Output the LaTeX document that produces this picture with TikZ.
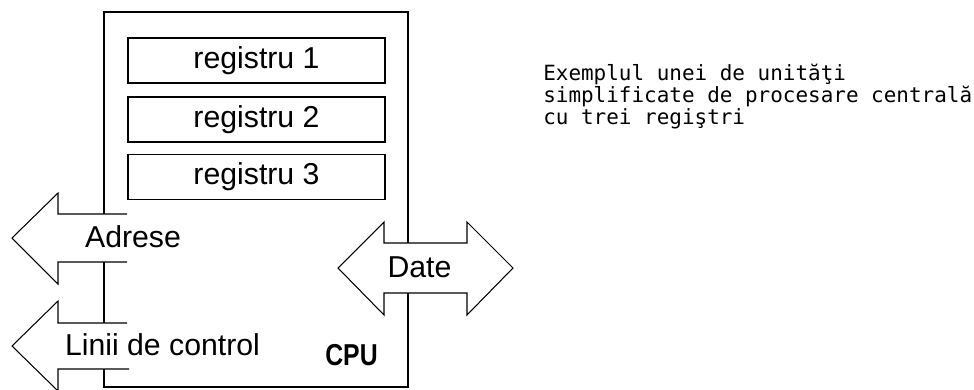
\documentclass[tikz,border=0pt]{standalone}
\usepackage{fontspec}
\usepackage{graphicx}
\setmainfont{Liberation Sans}
\newfontfamily\notefont{DejaVu Sans Mono}
\tikzset{
  cpuline/.style={line width=2.1pt},
  regbox/.style={draw,line width=1.1pt,inner sep=0pt,minimum width=6.425cm,minimum height=1.125cm,font=\fontsize{21.5}{26}\selectfont},
  busarrow/.style={line width=0.75pt,line join=miter},
  buslabel/.style={anchor=base,inner sep=0pt,font=\fontsize{21.5}{26}\selectfont}
}
\begin{document}
\begin{tikzpicture}[x=0.025cm,y=-0.025cm]
\useasboundingbox (0,0) rectangle (974,389);
% unitatea centrala
\draw[cpuline] (104,214)--(104,12)--(408,12)--(408,243);
\draw[cpuline] (408,293)--(408,387)--(104,387)--(104,369);
\draw[cpuline] (104,262)--(104,323);
\node[regbox] (reg1) at (256.5,60.5) {registru 1};
\node[regbox] (reg2) at (256.5,119.5) {registru 2};
\node[regbox] (reg3) at (256.5,177) {registru 3};
% magistrale
\draw[busarrow] (127,214)--(58,214)--(58,193)--(12,238)--(58,284)--(58,262)--(127,262);
\draw[busarrow] (127,323)--(58,323)--(58,301)--(12,346)--(58,391)--(58,369)--(129,369);
\draw[busarrow] (338,268)--(384,222)--(384,243)--(467,243)--(467,222)--(513,268)
  --(467,315)--(467,293)--(384,293)--(384,315)--cycle;
\node[buslabel] (adr) at (133,247) {Adrese};
\node[buslabel] (ctl) at (162.5,355) {Linii de control};
\node[buslabel] (dat) at (419.5,277) {Date};
\node[anchor=base,inner sep=0pt,font=\fontsize{21.5}{26}\selectfont\bfseries] (cpu) at (351.5,365) {\scalebox{0.82}[1]{CPU}};
% explicatie
\node[anchor=north west,align=left,inner sep=0pt,font=\notefont\fontsize{14.9}{15.6}\selectfont] (note) at (543,64)
  {Exemplul unei de unităţi\\simplificate de procesare centrală\\cu trei regiştri};
\end{tikzpicture}
\end{document}
